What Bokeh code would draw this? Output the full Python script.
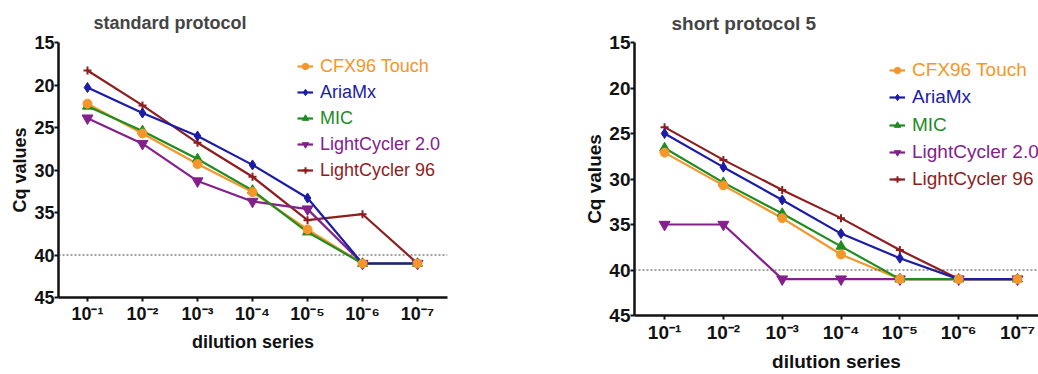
from bokeh.plotting import figure
from bokeh.layouts import row
from bokeh.models import (Range1d, FixedTicker, Span, Legend, LegendItem)
from bokeh.embed import file_html
from bokeh.resources import INLINE

# ---------------- data ----------------
dilutions = ["10⁻¹", "10⁻²", "10⁻³", "10⁻⁴", "10⁻⁵", "10⁻⁶", "10⁻⁷"]
dilution_pos = [1, 2, 3, 4, 5, 6, 7]
series_names = ["CFX96 Touch", "AriaMx", "MIC", "LightCycler 2.0", "LightCycler 96"]

std_cfx96 = [22.2, 25.7, 29.3, 32.6, 37.0, 41.0, 41.0]
std_ariamx = [20.3, 23.3, 26.0, 29.4, 33.3, 41.0, 41.0]
std_mic = [22.5, 25.4, 28.7, 32.4, 37.3, 41.0, 41.0]
std_lc20 = [23.9, 26.9, 31.3, 33.7, 34.6, 41.0, 41.0]
std_lc96 = [18.3, 22.4, 26.8, 30.8, 35.9, 35.2, 41.0]

short_cfx96 = [27.1, 30.7, 34.3, 38.3, 41.0, 41.0, 41.0]
short_ariamx = [25.0, 28.7, 32.3, 36.0, 38.7, 41.0, 41.0]
short_mic = [26.6, 30.4, 33.8, 37.4, 41.0, 41.0, 41.0]
short_lc20 = [35.0, 35.0, 41.0, 41.0, 41.0, 41.0, 41.0]
short_lc96 = [24.3, 27.9, 31.2, 34.3, 37.8, 41.0, 41.0]

threshold = 40
y_ticks = [15, 20, 25, 30, 35, 40, 45]

# ---------------- style ----------------
colors = ["#F5962A", "#1C1CA6", "#1E8C1E", "#84208C", "#8E1E1E"]
markers = ["circle", "diamond", "triangle", "inverted_triangle", "cross"]
msizes = [9, 10, 10, 11, 8]
FONT = "Liberation Sans"


def make_panel(title, data, width, height, x_start, x_end,
               b_left, b_right, b_top, b_bottom, fs, title_off, title_standoff,
               leg_x, leg_top, leg_pitch):
    p = figure(width=width, height=height, output_backend="svg",
               toolbar_location=None,
               x_range=Range1d(x_start, x_end), y_range=Range1d(45, 15),
               min_border_left=b_left, min_border_right=b_right,
               min_border_top=b_top, min_border_bottom=b_bottom,
               title=title)
    p.outline_line_color = None
    p.xgrid.visible = False
    p.ygrid.visible = False
    p.background_fill_color = "white"
    p.border_fill_color = "white"

    p.title.text_font = FONT
    p.title.text_font_size = f"{fs}px"
    p.title.text_font_style = "bold"
    p.title.align = "left"
    p.title.offset = title_off
    p.title.standoff = title_standoff

    for ax in (p.xaxis[0], p.yaxis[0]):
        ax.axis_line_width = 2.5
        ax.axis_line_color = "#111111"
        ax.major_tick_line_width = 2
        ax.major_tick_line_color = "#111111"
        ax.major_tick_out = 4
        ax.major_tick_in = 0
        ax.minor_tick_line_color = None
        ax.major_label_text_font = FONT
        ax.major_label_text_font_style = "bold"
        ax.major_label_text_font_size = f"{fs}px"
        ax.major_label_text_color = "#111111"
        ax.axis_label_text_font = FONT
        ax.axis_label_text_font_style = "bold"
        ax.axis_label_text_font_size = f"{fs}px"
        ax.axis_label_text_color = "#111111"

    p.xaxis.ticker = FixedTicker(ticks=dilution_pos)
    p.xaxis.major_label_overrides = {pos: lab for pos, lab in zip(dilution_pos, dilutions)}
    p.xaxis.axis_label = "dilution series"
    p.xaxis.axis_label_standoff = 5
    p.xaxis.major_label_standoff = 2
    p.yaxis.ticker = FixedTicker(ticks=y_ticks)
    p.yaxis.axis_label = "Cq values"
    p.yaxis.axis_label_standoff = 1
    p.yaxis.major_label_standoff = 0

    p.add_layout(Span(location=threshold, dimension="width", line_color="#444444",
                      line_width=1.2, line_dash="2 2"))

    frame_h = height - b_top - b_bottom
    renderers = []
    for name, vals, c, m, s in zip(series_names, data, colors, markers, msizes):
        lr = p.line(dilution_pos, vals, line_color=c, line_width=2.2)
        mr = p.scatter(dilution_pos, vals, marker=m, size=s, fill_color=c,
                       line_color=c, line_width=2 if m == "cross" else 1)
        renderers.append((name, c, lr, mr))

    # draw order: first series on top
    p.renderers = p.renderers[:1] + list(reversed(p.renderers[1:]))

    for i, (name, c, lr, mr) in enumerate(renderers):
        center_from_top = leg_top + i * leg_pitch
        y_bottom = frame_h - center_from_top - 10
        leg = Legend(items=[LegendItem(label=name, renderers=[lr, mr])],
                     location=(leg_x, y_bottom),
                     border_line_alpha=0, background_fill_alpha=0,
                     padding=0, margin=0, glyph_width=16, glyph_height=20,
                     label_height=20, label_standoff=7,
                     label_text_font=FONT, label_text_font_size=f"{fs}px",
                     label_text_color=c, label_text_baseline="middle")
        p.add_layout(leg)
    return p


p1 = make_panel("standard protocol",
                [std_cfx96, std_ariamx, std_mic, std_lc20, std_lc96],
                width=577, height=356, x_start=0.473, x_end=7.545,
                b_left=58, b_right=130, b_top=42, b_bottom=58, fs=18,
                title_off=35, title_standoff=19,
                leg_x=239, leg_top=25.5, leg_pitch=26)

p2 = make_panel("short protocol 5",
                [short_cfx96, short_ariamx, short_mic, short_lc20, short_lc96],
                width=461, height=374, x_start=0.489, x_end=7.357,
                b_left=57, b_right=0, b_top=42, b_bottom=58, fs=19,
                title_off=37, title_standoff=17,
                leg_x=255, leg_top=30, leg_pitch=27.3)

layout = row(p1, p2)
open("out.html", "w").write(file_html(layout, INLINE))
